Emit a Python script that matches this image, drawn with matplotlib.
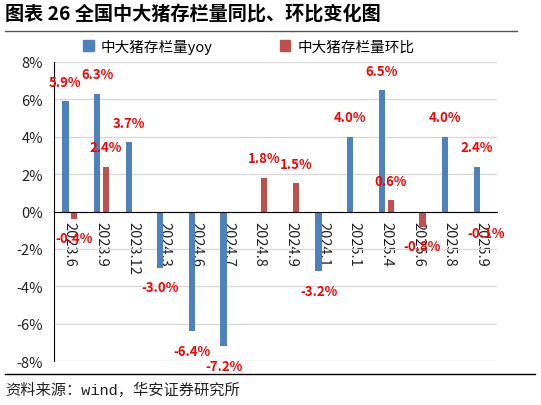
import numpy as np
import matplotlib
matplotlib.use("Agg")
import matplotlib.pyplot as plt
from matplotlib.lines import Line2D

plt.rcParams["font.family"] = ["Noto Sans CJK SC", "DejaVu Sans"]

categories = ["2023.6", "2023.9", "2023.12", "2024.3", "2024.6", "2024.7", "2024.8",
              "2024.9", "2024.1", "2025.1", "2025.4", "2025.6", "2025.8", "2025.9"]
yoy = [5.9, 6.3, 3.7, -3.0, -6.4, -7.2, np.nan, np.nan, -3.2, 4.0, 6.5, np.nan, 4.0, 2.4]
mom = [-0.4, 2.4, np.nan, np.nan, np.nan, np.nan, 1.8, 1.5, np.nan, np.nan, 0.6, -0.8, np.nan, -0.1]

BLUE = "#4F81BD"
RED = "#C0504D"
LABEL_RED = "#FF0000"

fig = plt.figure(figsize=(5.41, 4.06), dpi=100)
ax = fig.add_axes([0.0998, 0.108, 0.819, 0.737])

# spines first: moving the bottom spine resets tick styling
ax.spines["top"].set_visible(False)
ax.spines["right"].set_visible(False)
ax.spines["bottom"].set_position(("data", 0))
ax.spines["bottom"].set_color("black")
ax.spines["bottom"].set_zorder(4)
ax.spines["left"].set_color("black")

x = np.arange(len(categories))
w = 0.2
off = 0.14
ax.bar(x - off, yoy, width=w, color=BLUE, zorder=3)
ax.bar(x + off, mom, width=w, color=RED, zorder=3)


def add_labels(xs, vals):
    for xi, v in zip(xs, vals):
        if np.isnan(v):
            continue
        dy = 14 if v >= 0 else -14
        ax.annotate(f"{v:.1f}%", (xi, v), xytext=(0, dy), textcoords="offset points",
                    ha="center", va="center", color=LABEL_RED, fontsize=9.5,
                    fontweight="bold", zorder=5)


add_labels(x - off, yoy)
add_labels(x + off, mom)

ax.set_xlim(-0.5, len(categories) - 0.5)
ax.set_ylim(-8, 8)
ax.set_yticks(np.arange(-8, 9, 2))
ax.set_yticklabels([f"{t}%" for t in range(-8, 9, 2)], fontsize=10.5, color="#222222")
ax.set_xticks(x)
ax.set_xticklabels(categories, rotation=270, fontsize=10.5, color="#222222",
                   va="top", ha="center")
ax.tick_params(axis="both", length=0)
ax.tick_params(axis="x", pad=7)
ax.tick_params(axis="y", pad=8)

ax.grid(axis="y", color="#D9D9D9", linewidth=1, zorder=0)
ax.set_axisbelow(True)

# title and frame lines
fig.text(0.01, 0.962, "图表 26 全国中大猪存栏量同比、环比变化图", fontsize=13.8,
         fontweight="bold", va="center", ha="left", color="black")
fig.add_artist(Line2D([0.009, 0.956], [0.921, 0.921], color="#555555", linewidth=1))
fig.add_artist(Line2D([0.009, 0.989], [0.076, 0.076], color="black", linewidth=1))
fig.text(0.01, 0.038, "资料来源：wind，华安证券研究所", fontsize=11, va="center",
         ha="left", color="#222222", family=["Liberation Mono", "Noto Sans CJK SC"])

# legend
handles = [plt.Rectangle((0, 0), 1, 1, color=BLUE), plt.Rectangle((0, 0), 1, 1, color=RED)]
fig.legend(handles, ["中大猪存栏量yoy", "中大猪存栏量环比"], loc="center",
           bbox_to_anchor=(0.46, 0.884), ncol=2, frameon=False, fontsize=10.5,
           handlelength=0.7, handleheight=0.7, columnspacing=4.6, handletextpad=0.5)

fig.savefig("out.png", dpi=100)
